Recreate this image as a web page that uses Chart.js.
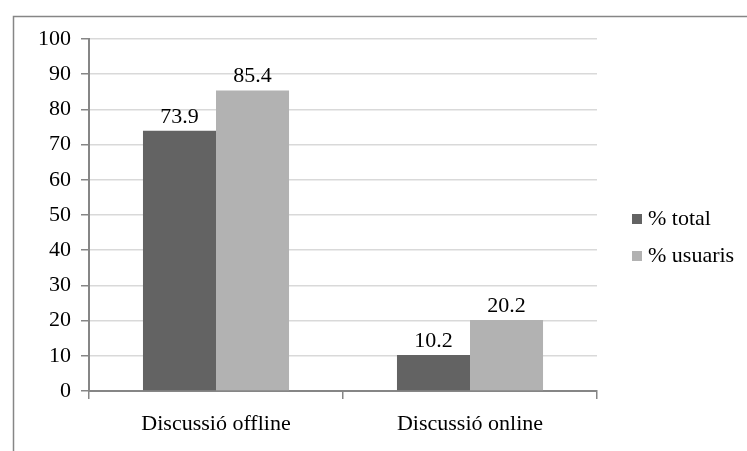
<!DOCTYPE html>
<html>
<head>
<meta charset="utf-8">
<script src="https://cdn.jsdelivr.net/npm/chart.js@4/dist/chart.umd.min.js"></script>
<style>
  html, body { margin: 0; padding: 0; background: #fff; }
  #wrap { width: 747px; height: 451px; position: relative; }
</style>
</head>
<body>
<div id="wrap"><canvas id="chart"></canvas></div>
<script>
const categories = ['Discussió offline', 'Discussió online'];
const seriesNames = ['% total', '% usuaris'];
const totalValues = [73.9, 10.2];
const usuarisValues = [85.4, 20.2];
const yTicks = [0, 10, 20, 30, 40, 50, 60, 70, 80, 90, 100];

const colors = ['#636363', '#b2b2b2'];
const font = { family: '"Liberation Serif", "Times New Roman", serif', size: 22 };

// frame around the whole chart (only top and left visible in the picture)
const framePlugin = {
    id: 'frame',
    beforeDraw(chart) {
        const ctx = chart.ctx;
        ctx.save();
        ctx.fillStyle = '#fff';
        ctx.fillRect(0, 0, chart.width, chart.height);
        ctx.strokeStyle = '#868686';
        ctx.lineWidth = 1.5;
        ctx.beginPath();
        ctx.moveTo(13.5, chart.height + 5);
        ctx.lineTo(13.5, 16.5);
        ctx.lineTo(chart.width + 5, 16.5);
        ctx.stroke();
        ctx.restore();
    }
};

// value labels above bars
const valueLabels = {
    id: 'valueLabels',
    afterDatasetsDraw(chart) {
        const ctx = chart.ctx;
        ctx.save();
        ctx.font = font.size + 'px ' + font.family;
        ctx.fillStyle = '#000';
        ctx.textAlign = 'center';
        ctx.textBaseline = 'bottom';
        chart.data.datasets.forEach((ds, i) => {
            chart.getDatasetMeta(i).data.forEach((bar, j) => {
                ctx.fillText(ds.data[j].toFixed(1), bar.x, bar.y - 3);
            });
        });
        ctx.restore();
    }
};

// legend on the right
const sideLegend = {
    id: 'sideLegend',
    afterDraw(chart) {
        const ctx = chart.ctx;
        ctx.save();
        ctx.font = font.size + 'px ' + font.family;
        ctx.textBaseline = 'middle';
        ctx.textAlign = 'left';
        const ys = [219, 256];
        chart.data.datasets.forEach((ds, i) => {
            ctx.fillStyle = ds.backgroundColor;
            ctx.fillRect(632, ys[i] - 5, 10, 10);
            ctx.fillStyle = '#000';
            ctx.fillText(ds.label, 648, ys[i]);
        });
        ctx.restore();
    }
};

new Chart(document.getElementById('chart'), {
    type: 'bar',
    data: {
        labels: categories,
        datasets: [
            { label: seriesNames[0], data: totalValues, backgroundColor: colors[0] },
            { label: seriesNames[1], data: usuarisValues, backgroundColor: colors[1] }
        ]
    },
    options: {
        responsive: true,
        maintainAspectRatio: false,
        animation: false,
        events: [],
        layout: { padding: { top: 39, right: 150, left: 0, bottom: 0 } },
        plugins: {
            legend: { display: false },
            tooltip: { enabled: false }
        },
        datasets: {
            bar: { categoryPercentage: 0.575, barPercentage: 1.0 }
        },
        scales: {
            x: {
                grid: { offset: true, drawOnChartArea: false, color: '#868686', tickLength: 8, lineWidth: 1.5 },
                border: { color: '#868686', width: 2 },
                ticks: { color: '#000', font: font, padding: 12 },
                afterFit(scale) { scale.height = 60; }
            },
            y: {
                min: 0,
                max: 100,
                afterBuildTicks(scale) { scale.ticks = yTicks.map(v => ({ value: v })); },
                grid: { color: '#d9d9d9', tickColor: '#868686', tickLength: 8, lineWidth: 1.5 },
                border: { color: '#868686', width: 2 },
                ticks: { color: '#000', font: font, padding: 10 },
                afterFit(scale) { scale.width = 89; }
            }
        }
    },
    plugins: [framePlugin, valueLabels, sideLegend]
});
</script>
</body>
</html>
